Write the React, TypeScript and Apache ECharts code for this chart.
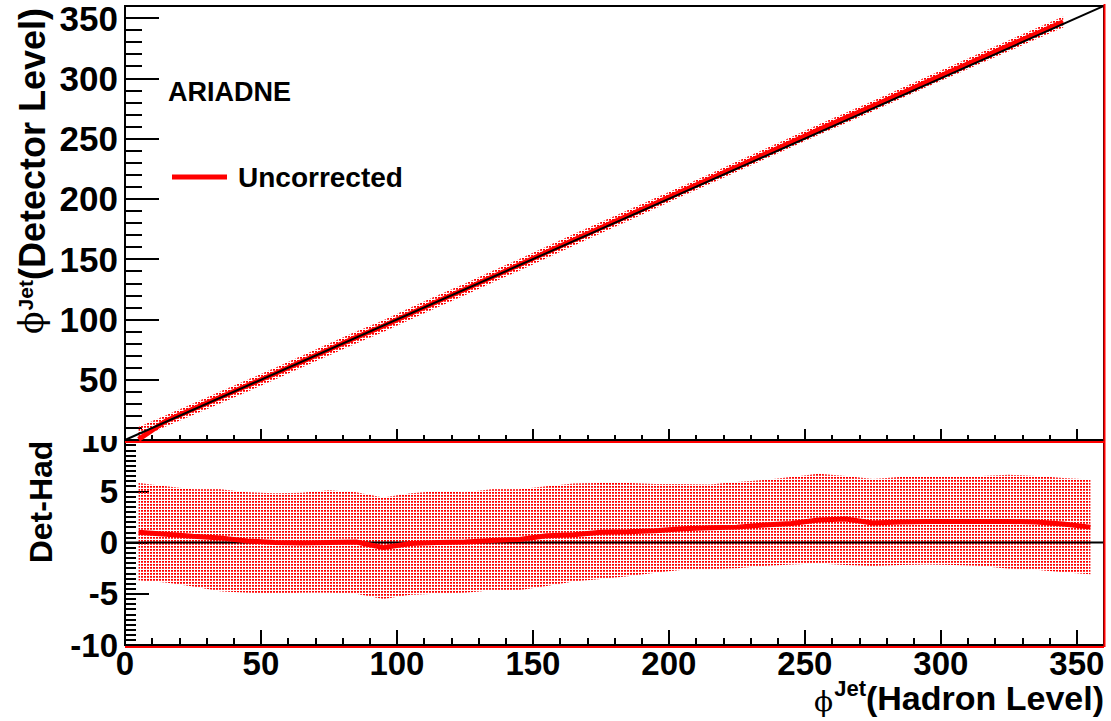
import React, { useEffect, useRef } from "react";
import * as echarts from "echarts";

// ---- Data ----
// Bottom panel: Det-Had vs hadron-level phi
const hadronBins = [5, 15, 25, 35, 45, 55, 65, 75, 85, 95, 105, 115, 125, 135, 145, 155, 165, 175, 185, 195, 205, 215, 225, 235, 245, 255, 265, 275, 285, 295, 305, 315, 325, 335, 345, 355];
const diffMean = [1.0, 0.8, 0.6, 0.45, 0.15, 0.0, -0.05, 0.0, 0.05, -0.5, -0.1, 0.0, 0.05, 0.2, 0.3, 0.65, 0.75, 1.0, 1.05, 1.15, 1.35, 1.45, 1.5, 1.7, 1.85, 2.2, 2.3, 1.9, 2.0, 2.05, 2.05, 2.05, 2.05, 2.0, 1.8, 1.5];
const diffUpper = [5.8, 5.5, 5.2, 5.2, 4.9, 4.8, 4.85, 5.1, 4.9, 4.4, 4.8, 5.0, 4.9, 5.2, 5.2, 5.5, 5.75, 5.8, 5.8, 5.7, 5.7, 5.65, 5.9, 6.1, 6.4, 6.7, 6.5, 6.2, 6.4, 6.5, 6.5, 6.5, 6.6, 6.5, 6.3, 6.15];
const diffLower = [-3.7, -3.9, -4.3, -4.75, -4.9, -5.0, -4.9, -4.9, -5.0, -5.5, -5.1, -5.0, -4.9, -4.65, -4.65, -4.25, -3.8, -3.55, -3.3, -2.95, -2.65, -2.6, -2.5, -2.3, -2.15, -2.05, -2.2, -2.3, -2.2, -2.15, -2.2, -2.3, -2.55, -2.65, -2.9, -3.1];

// Top panel: detector-level phi vs hadron-level phi
const topHadronBins = [5, 15, 25, 35, 45, 55, 65, 75, 85, 95, 105, 115, 125, 135, 145, 155, 165, 175, 185, 195, 205, 215, 225, 235, 245, 255, 265, 275, 285, 295, 305, 315, 325, 335, 345];
const topDetMean = [0.5, 15.8, 25.6, 35.5, 45.2, 55.0, 65.0, 75.0, 85.1, 94.5, 104.9, 115.0, 125.1, 135.2, 145.3, 155.7, 165.8, 176.0, 186.1, 196.2, 206.4, 216.5, 226.5, 236.7, 246.9, 257.2, 267.3, 276.9, 287.0, 297.1, 307.1, 317.1, 327.1, 337.0, 346.8];
const topDetUpper = [10.8, 20.5, 30.2, 40.2, 49.9, 59.8, 69.9, 80.1, 89.9, 99.4, 109.8, 120.0, 129.9, 140.2, 150.2, 160.5, 170.8, 180.8, 190.8, 200.7, 210.7, 220.7, 230.9, 241.1, 251.4, 261.7, 271.5, 281.2, 291.4, 301.5, 311.5, 321.5, 331.6, 341.5, 351.3];
const topDetLower = [1.3, 11.1, 20.7, 30.3, 40.1, 50.0, 60.1, 70.1, 80.0, 89.5, 99.9, 110.0, 120.1, 130.4, 140.4, 150.8, 161.2, 171.5, 181.7, 192.1, 202.4, 212.4, 222.5, 232.7, 242.9, 253.0, 262.8, 272.7, 282.8, 292.9, 302.8, 312.7, 322.5, 332.4, 342.1];

const identityLine = [[0, 0], [360, 360]];
const zeroLine = [[0, 0], [360, 0]];

const legendLabel = "Uncorrected";
const generatorLabel = "ARIADNE";
const phiSymbol = "ϕ";
const supText = "Jet";
const yTitleMain = "(Detector Level)";
const xTitleMain = "(Hadron Level)";
const ratioTitle = "Det-Had";

const SANS = "'Liberation Sans', Arial, Helvetica, sans-serif";
const SERIF = "'DejaVu Serif', 'Liberation Serif', serif";

function makePattern(): HTMLCanvasElement {
  const c = document.createElement("canvas");
  c.width = 3;
  c.height = 3;
  const ctx = c.getContext("2d")!;
  ctx.clearRect(0, 0, 3, 3);
  ctx.fillStyle = "rgba(255,0,0,1)";
  ctx.fillRect(0, 0, 2, 1);
  ctx.fillStyle = "rgba(255,0,0,0.75)";
  ctx.fillRect(0, 1, 2, 1);
  return c;
}

function textWidth(text: string, font: string): number {
  const c = document.createElement("canvas");
  const ctx = c.getContext("2d")!;
  ctx.font = font;
  return ctx.measureText(text).width;
}

function bandSeries(xs: number[], lower: number[], upper: number[], xi: number, yi: number, fill: any) {
  return {
    type: "custom",
    xAxisIndex: xi,
    yAxisIndex: yi,
    silent: true,
    z: 1,
    data: xs.map((x, i) => [x, lower[i], upper[i]]),
    encode: { x: 0, y: [1, 2] },
    renderItem: (params: any, api: any) => {
      if (params.dataIndex !== 0) return null;
      const pts: number[][] = [];
      for (let i = 0; i < xs.length; i++) pts.push(api.coord([xs[i], upper[i]]));
      for (let i = xs.length - 1; i >= 0; i--) pts.push(api.coord([xs[i], lower[i]]));
      return { type: "polygon", shape: { points: pts }, style: { fill, stroke: null } };
    },
  };
}

// Builds the "phi^Jet(...)" title as three text pieces, right-aligned at local x = 0,
// main caps centred on local y = 0.
function titlePieces(main: string, mainSize: number, supSize: number, phiSize: number, supDy: number, phiDy: number) {
  const wMain = textWidth(main, `bold ${mainSize}px ${SANS}`);
  const wSup = textWidth(supText, `bold ${supSize}px ${SANS}`);
  return [
    { type: "text", x: 0, y: 0, style: { text: main, fontFamily: SANS, fontSize: mainSize, fontWeight: "bold", fill: "#000", align: "right", verticalAlign: "middle", lineHeight: mainSize } },
    { type: "text", x: -wMain, y: supDy, style: { text: supText, fontFamily: SANS, fontSize: supSize, fontWeight: "bold", fill: "#000", align: "right", verticalAlign: "middle", lineHeight: supSize } },
    { type: "text", x: -wMain - wSup - 1, y: phiDy, style: { text: phiSymbol, fontFamily: SERIF, fontSize: phiSize, fontWeight: "normal", fill: "#000", align: "right", verticalAlign: "middle", lineHeight: phiSize } },
  ];
}

export default function App() {
  const ref = useRef<HTMLDivElement>(null);
  useEffect(() => {
    if (!ref.current) return;
    const chart = echarts.init(ref.current, null, { renderer: "svg" });
    const pattern = { image: makePattern(), repeat: "repeat" };
    const axisLineStyle = { color: "#000", width: 2 };
    const tickStyle = { color: "#000", width: 2 };
    const option: any = {
      animation: false,
      grid: [
        { left: 125, top: 4, width: 979, height: 436, show: true, borderColor: "#000", borderWidth: 2, backgroundColor: "transparent" },
        { left: 125, top: 440, width: 979, height: 205, show: true, borderColor: "#000", borderWidth: 2, backgroundColor: "transparent" },
      ],
      legend: {
        data: [legendLabel],
        left: 172,
        top: 161,
        padding: 0,
        icon: "rect",
        itemWidth: 55,
        itemHeight: 5,
        selectedMode: false,
        textStyle: { fontFamily: SANS, fontSize: 28, fontWeight: "bold", color: "#000", lineHeight: 32, padding: [0, 0, 0, 6] },
      },
      xAxis: [
        {
          gridIndex: 0, type: "value", min: 0, max: 360, interval: 50, position: "bottom",
          axisLine: { onZero: false, lineStyle: axisLineStyle },
          axisTick: { inside: true, length: 11, lineStyle: tickStyle },
          axisLabel: { show: false }, splitLine: { show: false },
        },
        {
          gridIndex: 0, type: "value", min: 0, max: 360, interval: 10, position: "bottom",
          axisLine: { show: false, onZero: false },
          axisTick: { inside: true, length: 5, lineStyle: tickStyle },
          axisLabel: { show: false }, splitLine: { show: false },
        },
        {
          gridIndex: 1, type: "value", min: 0, max: 360, interval: 50, position: "bottom",
          axisLine: { onZero: false, lineStyle: axisLineStyle },
          axisTick: { inside: true, length: 15, lineStyle: tickStyle },
          axisLabel: { show: true, showMaxLabel: false, margin: 2, fontFamily: SANS, fontSize: 33, fontWeight: "bold", color: "#000" },
          splitLine: { show: false },
        },
        {
          gridIndex: 1, type: "value", min: 0, max: 360, interval: 10, position: "bottom",
          axisLine: { show: false, onZero: false },
          axisTick: { inside: true, length: 7, lineStyle: tickStyle },
          axisLabel: { show: false }, splitLine: { show: false },
        },
      ],
      yAxis: [
        {
          gridIndex: 0, type: "value", min: 0, max: 360, interval: 50, position: "left",
          axisLine: { show: true, onZero: false, lineStyle: axisLineStyle },
          axisTick: { show: true, inside: true, length: 34, lineStyle: tickStyle },
          axisLabel: { show: true, showMinLabel: false, showMaxLabel: false, margin: 7, fontFamily: SANS, fontSize: 35, fontWeight: "bold", color: "#000", lineHeight: 28, padding: [8, 0, 0, 0] },
          splitLine: { show: false },
        },
        {
          gridIndex: 0, type: "value", min: 0, max: 360, interval: 10, position: "left",
          axisLine: { show: false, onZero: false },
          axisTick: { show: true, inside: true, length: 17, lineStyle: tickStyle },
          axisLabel: { show: false }, splitLine: { show: false },
        },
        {
          gridIndex: 1, type: "value", min: -10, max: 10, interval: 5, position: "left",
          axisLine: { show: true, onZero: false, lineStyle: axisLineStyle },
          axisTick: { show: true, inside: true, length: 24, lineStyle: tickStyle },
          minorTick: { show: true, splitNumber: 10, length: 11, lineStyle: { color: "#000", width: 2 } },
          axisLabel: { show: true, margin: 7, fontFamily: SANS, fontSize: 33, fontWeight: "bold", color: "#000", lineHeight: 28, padding: [4, 0, 0, 0] },
          splitLine: { show: false },
        },
      ],
      series: [
        bandSeries(topHadronBins, topDetLower, topDetUpper, 0, 0, pattern),
        {
          type: "line", name: legendLabel, xAxisIndex: 0, yAxisIndex: 0, z: 3,
          data: topHadronBins.map((x, i) => [x, topDetMean[i]]),
          showSymbol: false, symbol: "none", color: "#ff0000",
          lineStyle: { color: "#ff0000", width: 5 },
        },
        {
          type: "line", xAxisIndex: 0, yAxisIndex: 0, z: 4, silent: true,
          data: identityLine, showSymbol: false, symbol: "none",
          lineStyle: { color: "#000", width: 2 },
        },
        bandSeries(hadronBins, diffLower, diffUpper, 2, 2, pattern),
        {
          type: "line", xAxisIndex: 2, yAxisIndex: 2, z: 3, silent: true,
          data: zeroLine, showSymbol: false, symbol: "none",
          lineStyle: { color: "#000", width: 2 },
        },
        {
          type: "line", xAxisIndex: 2, yAxisIndex: 2, z: 4,
          data: hadronBins.map((x, i) => [x, diffMean[i]]),
          showSymbol: false, symbol: "none", color: "#ff0000",
          lineStyle: { color: "#ff0000", width: 5 },
        },
      ],
      graphic: [
        { type: "rect", z: 100, shape: { x: 55, y: 418, width: 67, height: 18 }, style: { fill: "#fff" } },
        { type: "line", z: 100, shape: { x1: 125, y1: 442, x2: 1104, y2: 442 }, style: { stroke: "#ff0000", lineWidth: 2 } },
        { type: "line", z: 100, shape: { x1: 125, y1: 647, x2: 1104, y2: 647 }, style: { stroke: "#ff0000", lineWidth: 2 } },
        { type: "line", z: 100, shape: { x1: 1104.5, y1: 4, x2: 1104.5, y2: 647 }, style: { stroke: "#ff0000", lineWidth: 2 } },
        {
          type: "text", z: 100, x: 168, y: 92,
          style: { text: generatorLabel, fontFamily: SANS, fontSize: 27, fontWeight: "bold", fill: "#000", align: "left", verticalAlign: "middle" },
        },
        {
          type: "group", z: 100, x: 32, y: 8, rotation: Math.PI / 2,
          children: titlePieces(yTitleMain, 36, 21, 33, -7, -1),
        },
        {
          type: "text", z: 100, x: 41, y: 502, rotation: Math.PI / 2,
          style: { text: ratioTitle, fontFamily: SANS, fontSize: 32, fontWeight: "bold", fill: "#000", align: "center", verticalAlign: "middle" },
        },
        {
          type: "group", z: 100, x: 1104, y: 698,
          children: titlePieces(xTitleMain, 34, 22, 28, -9.5, 3.5),
        },
      ],
    };
    chart.setOption(option);
    return () => chart.dispose();
  }, []);
  return <div ref={ref} style={{ position: "fixed", left: 0, top: 0, width: 1111, height: 721, background: "#fff" }} />;
}
